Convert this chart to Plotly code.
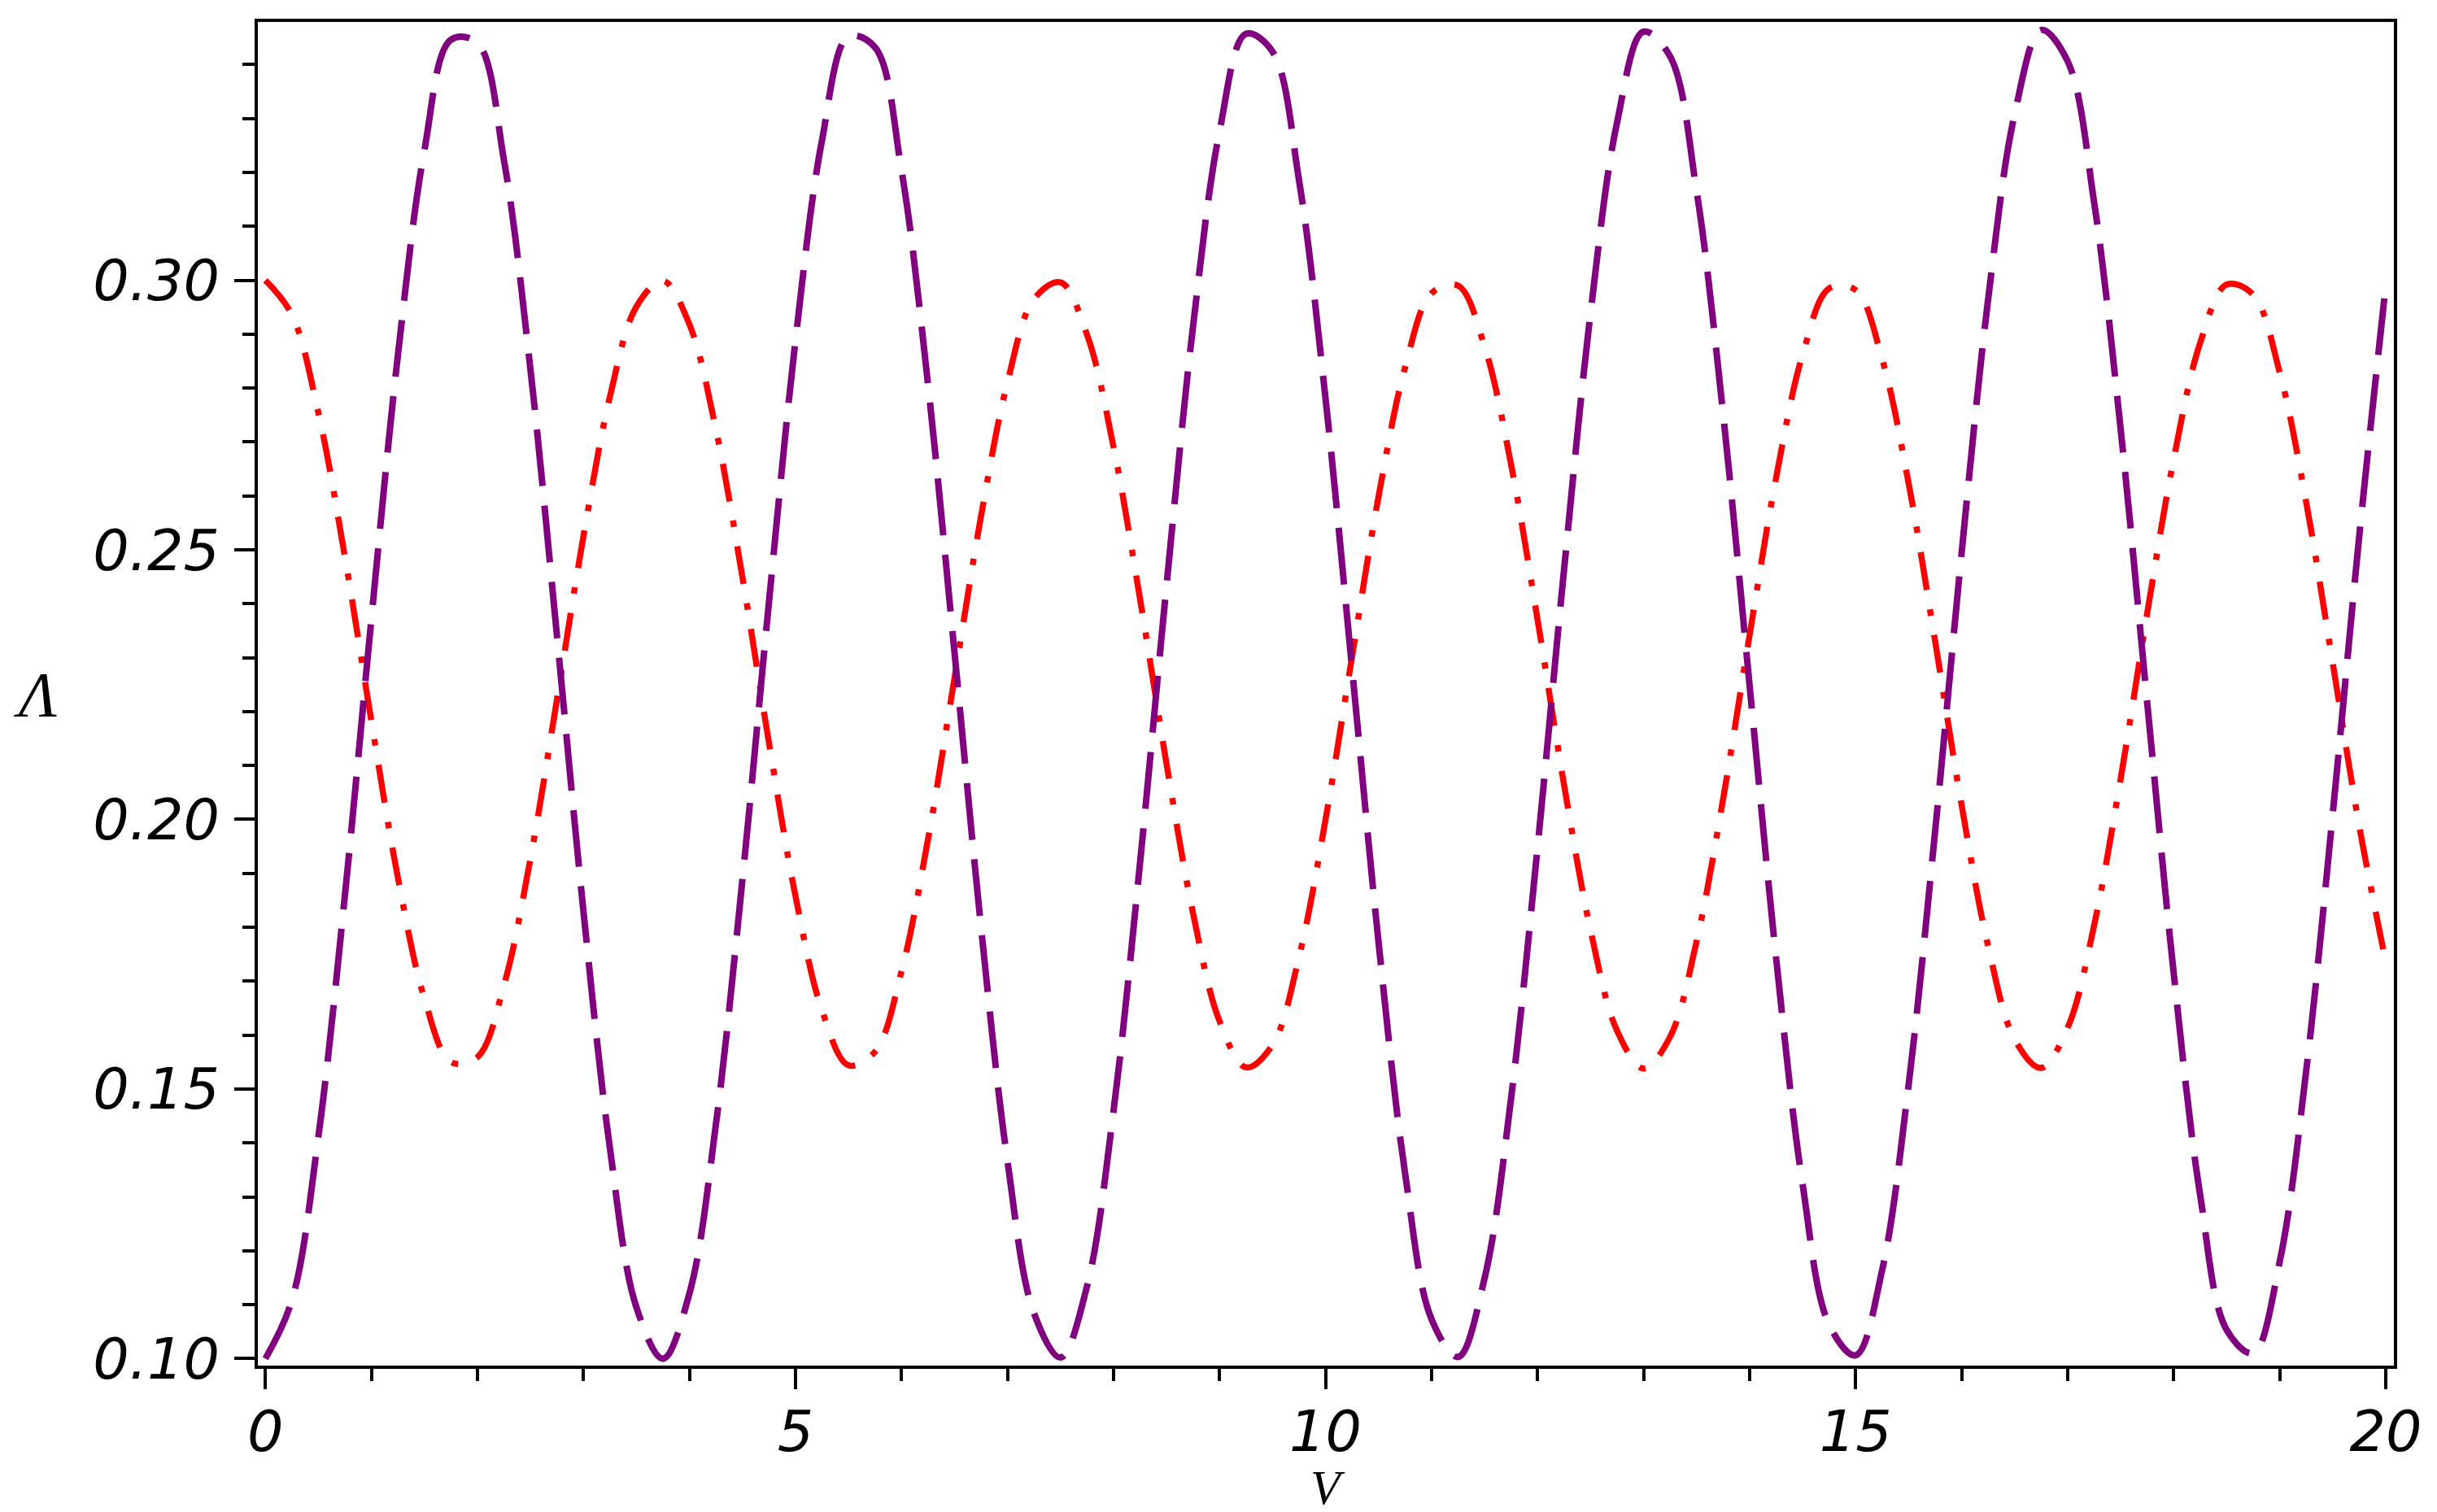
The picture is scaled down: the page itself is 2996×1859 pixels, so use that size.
import plotly.graph_objects as go

# V values (step 0.25 from 0 to 20)
v = [i * 0.25 for i in range(81)]

# purple dashed curve
lam_purple = [
    0.1000, 0.1108, 0.1412, 0.1859, 0.2372, 0.2861, 0.3241, 0.3446, 0.3440, 0.3223,
    0.2835, 0.2341, 0.1830, 0.1390, 0.1095, 0.1000, 0.1121, 0.1435, 0.1889, 0.2403,
    0.2888, 0.3259, 0.3452, 0.3432, 0.3204, 0.2807, 0.2310, 0.1801, 0.1366, 0.1084,
    0.1002, 0.1134, 0.1459, 0.1919, 0.2434, 0.2914, 0.3276, 0.3457, 0.3424, 0.3185,
    0.2780, 0.2280, 0.1772, 0.1344, 0.1073, 0.1003, 0.1149, 0.1483, 0.1949, 0.2464,
    0.2940, 0.3293, 0.3461, 0.3415, 0.3165, 0.2752, 0.2248, 0.1743, 0.1323, 0.1063,
    0.1006, 0.1164, 0.1508, 0.1979, 0.2495, 0.2965, 0.3308, 0.3464, 0.3406, 0.3144,
    0.2723, 0.2217, 0.1715, 0.1303, 0.1053, 0.1010, 0.1180, 0.1534, 0.2010, 0.2525,
    0.2990,
]

# red dash-dot curve
lam_red = [
    0.3000, 0.2936, 0.2754, 0.2487, 0.2182, 0.1892, 0.1668, 0.1550, 0.1559, 0.1692,
    0.1927, 0.2222, 0.2525, 0.2784, 0.2951, 0.2999, 0.2918, 0.2723, 0.2449, 0.2142,
    0.1858, 0.1646, 0.1544, 0.1569, 0.1718, 0.1963, 0.2262, 0.2562, 0.2811, 0.2965,
    0.2996, 0.2899, 0.2691, 0.2409, 0.2103, 0.1826, 0.1626, 0.1540, 0.1582, 0.1745,
    0.2000, 0.2302, 0.2599, 0.2838, 0.2976, 0.2990, 0.2877, 0.2658, 0.2370, 0.2064,
    0.1794, 0.1608, 0.1538, 0.1597, 0.1774, 0.2038, 0.2342, 0.2634, 0.2862, 0.2985,
    0.2982, 0.2854, 0.2623, 0.2330, 0.2026, 0.1765, 0.1592, 0.1539, 0.1614, 0.1804,
    0.2076, 0.2382, 0.2668, 0.2884, 0.2992, 0.2973, 0.2829, 0.2588, 0.2290, 0.1988,
    0.1736,
]

x_ticks = [0, 5, 10, 15, 20]
y_ticks = [0.10, 0.15, 0.20, 0.25, 0.30]

W, H = 2996, 1859
L, R, T, B = 309, 61, 19, 188
pw, ph = W - L - R, H - T - B

tick_font = dict(family="DejaVu Sans", size=70, color="black", style="italic")

fig = go.Figure()

fig.add_trace(go.Scatter(
    x=v, y=lam_red, mode="lines", line_shape="spline",
    line=dict(color="#ff0000", width=7.5, dash="47px,24px,8px,24px"),
))
fig.add_trace(go.Scatter(
    x=v, y=lam_purple, mode="lines", line_shape="spline",
    line=dict(color="#800080", width=8, dash="70px,24px"),
))

axis_common = dict(
    showgrid=False, zeroline=False, showline=True, linecolor="black",
    linewidth=4, mirror=True, ticks="outside", ticklen=25, tickwidth=4,
    tickcolor="black", tickfont=tick_font,
)

fig.update_xaxes(
    range=[-0.071, 20.077], tickvals=x_ticks, ticklabelstandoff=-8,
    minor=dict(dtick=1, tick0=0, ticks="outside", ticklen=15, tickwidth=4,
               tickcolor="black"),
    **axis_common,
)
fig.update_yaxes(
    range=[0.0987, 0.3479], tickvals=y_ticks, tickformat=".2f",
    ticklabelstandoff=4,
    minor=dict(dtick=0.01, tick0=0.1, ticks="outside", ticklen=15, tickwidth=4,
               tickcolor="black"),
    **axis_common,
)

# axis labels placed like the original (horizontal y label)
fig.add_annotation(text="V", xref="paper", yref="paper",
                   x=(1624 - L) / pw, y=(H - B - 1821) / ph,
                   xanchor="center", yanchor="middle", showarrow=False,
                   borderpad=0,
                   font=dict(family="Liberation Serif", size=60, color="black",
                             style="italic"))
fig.add_annotation(text="Λ", xref="paper", yref="paper",
                   x=(35 - L) / pw, y=(H - B - 845) / ph,
                   xanchor="center", yanchor="middle", showarrow=False,
                   font=dict(family="Liberation Serif", size=78, color="black",
                             style="italic"))

fig.update_layout(
    width=W, height=H,
    margin=dict(l=L, r=R, t=T, b=B, pad=0),
    paper_bgcolor="white", plot_bgcolor="white",
    showlegend=False,
)

fig.write_html("out.html")
